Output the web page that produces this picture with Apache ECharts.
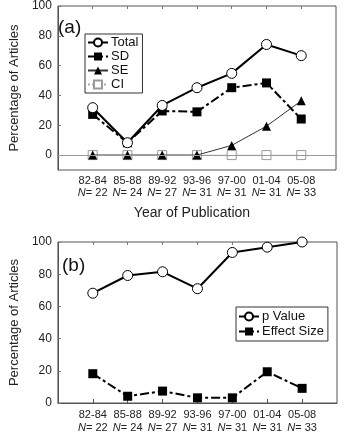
<!DOCTYPE html>
<html lang="en">
  <head>
    <meta charset="UTF-8" />
    <title>Percentage of Articles</title>
    <style>
      * {
        margin: 0;
        padding: 0;
      }
      html,
      body {
        width: 100%;
        height: 100%;
        background: #fff;
      }
      #chart {
        width: 345px;
        height: 442px;
      }
    </style>
    <script src="https://cdn.jsdelivr.net/npm/echarts@6/dist/echarts.min.js"></script>
  </head>
  <body>
    <div id="chart"></div>
    <script>
      // 年份区间和样本量
      var periods = ["82-84", "85-88", "89-92", "93-96", "97-00", "01-04", "05-08"];
      var sampleN = [22, 24, 27, 31, 31, 31, 33];
      // (a) 图数据
      var total = [31.8, 8.3, 33.3, 45.2, 54.8, 74.2, 66.7];
      var sd = [27.3, 8.3, 29.6, 29.0, 45.2, 48.4, 24.2];
      var se = [0, 0, 0, 0, 6.5, 19.4, 36.4];
      var ci = [0, 0, 0, 0, 0, 0, 0];
      // (b) 图数据
      var pValue = [68.2, 79.2, 81.5, 71.0, 93.5, 96.8, 100];
      var effectSize = [18.2, 4.2, 7.4, 3.2, 3.2, 19.4, 9.1];
      var yTicksA = [0, 20, 40, 60, 80, 100];

      var font = "Liberation Sans, Arial, sans-serif";
      // 两端留一个空类目
      var cats = [""].concat(periods, [""]);
      var pad = function (arr) {
        return [null].concat(arr, [null]);
      };
      var innerTicks = function (i) {
        return i > 0 && i < cats.length - 1;
      };

      var xAxisBase = function (gridIndex, lineHeight) {
        return {
          type: "category",
          gridIndex: gridIndex,
          data: cats,
          boundaryGap: false,
          axisLine: { lineStyle: { color: "#555", width: 1 } },
          axisTick: { inside: true, length: 4, lineStyle: { color: "#555" }, interval: innerTicks },
          splitLine: { show: false },
          axisLabel: {
            interval: 0,
            color: "#222",
            fontFamily: font,
            fontSize: 11,
            lineHeight: lineHeight,
            margin: 5,
            formatter: function (v) {
              if (!v) return "";
              var n = sampleN[periods.indexOf(v)];
              return v + "\n{i|N}{t|= " + n + "}";
            },
            rich: {
              i: { fontStyle: "italic", fontFamily: font, fontSize: 11, color: "#222", lineHeight: lineHeight },
              t: { fontFamily: font, fontSize: 11, color: "#222", lineHeight: lineHeight },
            },
          },
        };
      };

      // 上边框的镜像刻度
      var topTicks = function (gridIndex) {
        return {
          type: "category",
          gridIndex: gridIndex,
          position: "top",
          data: cats,
          boundaryGap: false,
          axisLine: { show: false },
          axisTick: { inside: true, length: 3, lineStyle: { color: "#777" }, interval: innerTicks },
          axisLabel: { show: false },
          splitLine: { show: false },
        };
      };

      var yAxisBase = function (gridIndex, nameGap) {
        return {
          type: "value",
          gridIndex: gridIndex,
          name: "Percentage of Articles",
          nameLocation: "middle",
          nameGap: nameGap,
          nameTextStyle: { fontFamily: font, fontSize: 13, color: "#222" },
          axisLine: { show: true, lineStyle: { color: "#555" } },
          axisTick: { show: true, inside: true, length: 3, lineStyle: { color: "#777" } },
          splitLine: { show: false },
          axisLabel: { fontFamily: font, fontSize: 12, color: "#222", margin: 6 },
        };
      };

      var yA = yAxisBase(0, 30);
      yA.min = -10;
      yA.max = 100;
      yA.axisTick.customValues = yTicksA;
      yA.axisLabel.customValues = yTicksA;
      var yB = yAxisBase(1, 34);
      yB.min = 0;
      yB.max = 100;
      yB.interval = 20;

      var xA = xAxisBase(0, 12);
      xA.name = "Year of Publication";
      xA.nameLocation = "middle";
      xA.nameGap = 36;
      xA.nameTextStyle = { fontFamily: font, fontSize: 14, color: "#222", padding: [0, 10, 0, 0] };
      var xB = xAxisBase(1, 13);

      var option = {
        backgroundColor: "#fff",
        animation: false,
        grid: [
          { left: 45, top: 6, right: 9, height: 164, show: true, borderColor: "#555", borderWidth: 1 },
          { left: 49, top: 242, right: 8, height: 161, show: true, borderColor: "#555", borderWidth: 1 },
        ],
        xAxis: [xA, xB, topTicks(0), topTicks(1)],
        yAxis: [yA, yB],
        legend: [
          {
            data: ["Total", "SD", "SE", "CI"],
            orient: "vertical",
            left: 85,
            top: 34,
            itemWidth: 20,
            itemHeight: 10,
            itemGap: 1,
            padding: [2, 4, 2, 2],
            borderColor: "#333",
            borderWidth: 1,
            textStyle: { fontFamily: font, fontSize: 13, color: "#111", padding: [0, 0, 0, -2] },
          },
          {
            data: ["p Value", "Effect Size"],
            orient: "vertical",
            left: 236,
            top: 307,
            itemWidth: 20,
            itemHeight: 10,
            itemGap: 2,
            padding: [3, 4, 3, 2],
            borderColor: "#333",
            borderWidth: 1,
            textStyle: { fontFamily: font, fontSize: 13, color: "#111", padding: [0, 0, 0, -2] },
          },
        ],
        graphic: [
          { type: "text", left: 58, top: 18, style: { text: "(a)", font: "19px " + font, fill: "#111" } },
          { type: "text", left: 62, top: 256, style: { text: "(b)", font: "19px " + font, fill: "#111" } },
        ],
        series: [
          {
            name: "CI",
            type: "line",
            data: pad(ci),
            symbol: "rect",
            symbolSize: 9,
            itemStyle: { color: "#fff", borderColor: "#999", borderWidth: 1 },
            lineStyle: { color: "#aaa", width: 1, type: "dotted" },
            z: 2,
            markLine: {
              silent: true,
              symbol: "none",
              label: { show: false },
              lineStyle: { color: "#999", width: 1, type: "solid" },
              data: [{ yAxis: 0 }],
            },
          },
          {
            name: "SE",
            type: "line",
            data: pad(se),
            symbol: "triangle",
            symbolSize: 9,
            itemStyle: { color: "#000" },
            lineStyle: { color: "#333", width: 1 },
            z: 3,
          },
          {
            name: "SD",
            type: "line",
            data: pad(sd),
            symbol: "rect",
            symbolSize: 9,
            itemStyle: { color: "#000" },
            lineStyle: { color: "#000", width: 2, type: [9, 3, 3, 3] },
            z: 4,
          },
          {
            name: "Total",
            type: "line",
            data: pad(total),
            symbol: "circle",
            symbolSize: 10,
            itemStyle: { color: "#fff", borderColor: "#000", borderWidth: 1 },
            lineStyle: { color: "#000", width: 2 },
            z: 5,
          },
          {
            name: "p Value",
            type: "line",
            xAxisIndex: 1,
            yAxisIndex: 1,
            data: pad(pValue),
            symbol: "circle",
            symbolSize: 10,
            itemStyle: { color: "#fff", borderColor: "#000", borderWidth: 1 },
            lineStyle: { color: "#000", width: 2 },
            z: 5,
          },
          {
            name: "Effect Size",
            type: "line",
            xAxisIndex: 1,
            yAxisIndex: 1,
            data: pad(effectSize),
            symbol: "rect",
            symbolSize: 9,
            itemStyle: { color: "#000" },
            lineStyle: { color: "#000", width: 2, type: [9, 3, 3, 3] },
            z: 4,
          },
        ],
      };

      var myChart = echarts.init(document.getElementById("chart"));
      myChart.setOption(option);
    </script>
  </body>
</html>
